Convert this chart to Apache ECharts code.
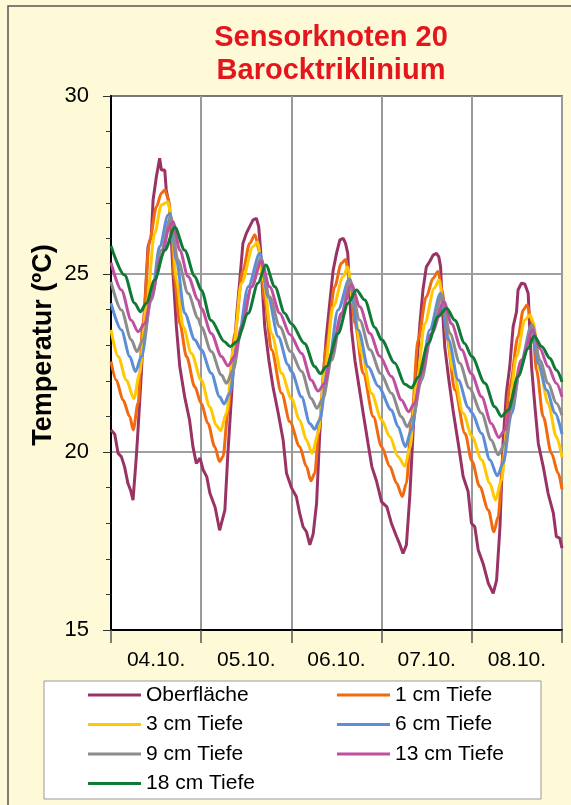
<!DOCTYPE html>
<html><head><meta charset="utf-8">
<script src="https://cdn.jsdelivr.net/npm/echarts@6/dist/echarts.min.js"></script>
<style>html,body{margin:0;padding:0;background:#FEF9D7;}#c{width:571px;height:805px;}</style>
</head><body><div id="c"></div>
<script>
// hours since 04.10. 00:00, temperature in °C
const dayLabels = ['04.10.', '05.10.', '06.10.', '07.10.', '08.10.'];
const seriesNames = ['Oberfläche', '1 cm Tiefe', '3 cm Tiefe', '6 cm Tiefe', '9 cm Tiefe', '13 cm Tiefe', '18 cm Tiefe'];
const seriesColors = ['#993366', '#F26A10', '#FFC800', '#5B8ED6', '#8C8C8C', '#C04FA0', '#0F7A36'];

const oberflaeche = [[0,20.62],[1,20.5],[1.9,19.96],[2.75,19.87],[3.6,19.59],[4.5,19.12],[5.2,18.93],[5.86,18.65],[6.74,19.87],[7.19,20.62],[8.07,22.21],[8.96,24.08],[9.85,25.77],[10.7,26.05],[11.2,27.08],[12.07,27.73],[12.95,28.25],[13.4,27.92],[14.3,27.92],[14.7,27.36],[15.6,26.89],[16.06,25.96],[16.5,25.02],[17.4,23.52],[18.3,22.4],[19.6,21.55],[20.9,20.9],[21.8,20.15],[22.7,19.68],[23.7,19.83],[24.5,19.5],[25.5,19.3],[26.3,18.85],[27.7,18.45],[28.9,17.8],[30.3,18.37],[31.1,19.96],[32,21.46],[33.4,23.8],[34.2,24.74],[35.1,25.86],[36,26.14],[36.9,26.33],[37.8,26.52],[38.7,26.56],[39.3,26.33],[39.8,25.67],[40.2,24.74],[40.9,23.52],[42,22.58],[43.1,21.83],[44.5,21.09],[45.8,20.34],[46.7,19.4],[48,19.0],[49.3,18.75],[50.2,18.28],[51.1,17.9],[52,17.76],[52.9,17.39],[53.8,17.7],[54.7,18.56],[55.5,20.43],[56.4,22.02],[57.3,23.24],[58.2,24.18],[59.1,25.1],[60,25.58],[60.9,25.96],[61.8,26.0],[62.4,25.86],[63,25.58],[63.4,24.64],[64,23.43],[64.9,22.58],[66,21.83],[67.1,21.09],[68.4,20.24],[69.4,19.59],[70.6,19.2],[72,18.6],[73.4,18.46],[74.6,18.0],[76,17.62],[76.9,17.39],[77.7,17.15],[78.6,17.39],[79.5,18.75],[80.4,20.62],[81.3,22.3],[82.2,23.61],[83,24.55],[83.9,25.2],[84.8,25.35],[85.7,25.53],[86.6,25.58],[87.2,25.49],[87.7,25.2],[88.1,24.18],[88.8,22.96],[89.9,22.02],[91,21.18],[92.4,20.24],[93.7,19.31],[95,18.9],[95.9,18.0],[96.8,17.9],[97.7,17.25],[99,16.87],[100.4,16.31],[101.7,16.03],[102.6,16.4],[103.5,17.9],[104.3,20.24],[105.2,21.65],[106.1,22.4],[107,23.52],[107.9,23.94],[108.3,24.55],[109.2,24.74],[110.1,24.72],[111,24.46],[111.4,23.52],[111.9,22.4],[112.8,21.27],[113.7,20.24],[115,19.59],[116.3,18.84],[117.7,18.28],[118.5,17.62],[119.4,17.58],[120,17.3]];

const tiefe1 = [[0,22.54],[1.4,22.02],[3.2,21.46],[5,20.99],[5.9,20.62],[7.2,21.37],[8.5,23.61],[10.3,25.96],[12.1,26.89],[13.4,27.27],[14.3,27.36],[15.2,27.13],[16.1,26.33],[16.9,24.83],[18.3,23.61],[20.1,22.68],[22.3,21.83],[24,21.37],[25.8,20.8],[27.6,20.15],[28.9,19.73],[29.8,19.87],[31.1,21.09],[32.9,23.33],[35.1,25.1],[36.9,25.86],[38.3,26.1],[39.6,25.58],[40.9,24.27],[42.7,22.87],[45.4,21.65],[47.6,20.85],[50.2,20.15],[52,19.59],[53.2,19.19],[54.2,19.4],[55.5,20.9],[57.3,22.96],[59.5,24.64],[61.3,25.3],[62.4,25.41],[63.5,24.83],[64.9,23.61],[67.1,22.21],[69.8,20.99],[72,20.15],[74.2,19.59],[76,19.12],[77.5,18.75],[78.6,19.12],[79.95,20.9],[81.7,23.15],[83.9,24.36],[85.7,24.88],[87,25.07],[88.1,24.55],[89.3,23.24],[91.5,21.74],[94.2,20.52],[96,19.75],[98.1,19.03],[100.4,18.37],[101.9,17.76],[103,18.18],[104.4,19.96],[106.1,21.83],[108.3,23.24],[109.7,23.99],[110.7,24.13],[112.1,23.61],[113.2,22.3],[115,20.99],[117.2,19.96],[119,19.4],[120,18.95]];

const tiefe3 = [[0,23.43],[1.9,22.68],[4.1,22.02],[6.1,21.5],[7.6,22.2],[9.4,24.08],[11.6,26.14],[13.4,26.94],[15.2,27.03],[16.1,26.52],[17.4,24.83],[19.2,23.52],[21.4,22.77],[24,22.02],[26.3,21.27],[28,20.75],[29.2,20.6],[30.7,21.09],[32.5,22.87],[34.7,24.74],[37.8,25.77],[39,25.9],[40.5,24.83],[42.7,23.33],[45.4,22.21],[48,21.5],[50.2,20.9],[52,20.34],[53.5,19.96],[55.1,20.52],[56.9,22.3],[59.1,24.08],[61.8,24.93],[63,25.2],[64.4,24.18],[66.7,22.77],[69.3,21.65],[72,20.9],[74.2,20.43],[76.4,19.87],[78.2,19.6],[79.5,20.1],[81.3,21.93],[83.5,23.61],[86,24.6],[87.3,24.83],[88.8,23.8],[91,22.3],[93.7,21.09],[96,20.45],[98.6,19.78],[100.8,19.12],[102.3,18.65],[103.9,19.21],[105.7,20.99],[107.9,22.68],[110.1,23.71],[111.5,23.85],[112.3,23.66],[114.1,22.3],[116.3,21.37],[118.5,20.43],[120,19.85]];

const tiefe6 = [[0,24.18],[2.75,23.43],[5,22.68],[6.5,22.26],[8.1,22.68],[10.7,24.27],[12.95,25.77],[15.2,26.66],[15.7,26.7],[17.4,25.39],[19.6,23.9],[22.3,23.15],[24,22.87],[26.7,22.21],[28.9,21.55],[30.1,21.35],[31.6,21.65],[33.8,23.15],[36.5,24.64],[39.6,25.58],[41.8,24.36],[44.5,23.24],[47.1,22.45],[48,22.26],[50.7,21.55],[52.9,20.8],[54.2,20.64],[55.5,20.9],[57.8,22.4],[60.4,23.99],[63.4,24.85],[65.8,23.43],[68.4,22.4],[71.1,21.85],[74.6,21.18],[76.4,20.71],[78.3,20.15],[79.95,20.62],[82.2,21.93],[84.8,23.43],[87.7,24.46],[89.8,23.15],[92.4,22.02],[95.1,21.25],[96,21.1],[98.6,20.52],[100.8,19.78],[102.8,19.33],[104.3,19.68],[106.6,21.09],[109.2,22.58],[111.9,23.57],[113.7,22.49],[115.9,21.74],[118.2,21.09],[120,20.5]];

const tiefe9 = [[0,24.78],[2.75,23.99],[5.4,23.15],[6.9,22.82],[8.5,23.15],[10.7,24.27],[13.4,25.67],[15.9,26.6],[17.8,25.39],[20.5,24.46],[23.2,23.75],[24,23.52],[26.7,22.82],[29.4,22.16],[30.7,21.93],[32.5,22.3],[34.7,23.43],[37.4,24.64],[39.9,25.44],[42.2,24.36],[44.9,23.52],[47.8,22.82],[50.7,22.26],[53.3,21.5],[54.8,21.23],[56.4,21.5],[58.7,22.58],[61.3,23.8],[63.5,24.85],[66.2,23.7],[68.9,22.87],[71.8,22.2],[74.6,21.65],[77.3,20.99],[78.8,20.71],[80.4,20.99],[82.6,22.02],[85.3,23.33],[88,24.41],[90.2,23.33],[92.8,22.49],[95.3,21.8],[98.6,21.09],[101.2,20.34],[103,19.92],[104.8,20.24],[106.6,21.27],[109.2,22.49],[112.1,23.57],[114.1,22.58],[116.3,21.93],[118.5,21.37],[120,21.03]];

const tiefe13 = [[0,25.32],[2.75,24.55],[5.4,23.7],[7.2,23.38],[9,23.6],[10.7,24.36],[13.4,25.49],[15.6,26.33],[16.5,26.47],[18.3,25.67],[20.5,24.93],[23.2,24.27],[24,24.04],[26.7,23.33],[29.4,22.68],[31.1,22.42],[32.9,22.68],[34.7,23.52],[37.4,24.64],[40,25.35],[42.2,24.64],[44.9,23.9],[47.6,23.3],[50.7,22.77],[53.3,22.02],[55.1,21.71],[56.9,21.93],[58.7,22.77],[61.3,23.9],[64,24.7],[66.2,24.08],[68.9,23.33],[71.5,22.7],[74.6,22.12],[77.3,21.46],[79.2,21.13],[80.8,21.37],[82.6,22.2],[85.3,23.33],[88.6,24.22],[90.6,23.6],[93.3,22.87],[95.9,22.2],[98.6,21.55],[101.2,20.8],[103.2,20.41],[104.8,20.62],[106.6,21.46],[109.2,22.58],[112.2,23.43],[114.1,22.91],[116.3,22.4],[118.5,21.93],[120,21.55]];

const tiefe18 = [[0,25.79],[3.6,24.97],[6.3,24.18],[7.8,23.94],[9.4,24.18],[11.6,24.83],[14.3,25.67],[17.0,26.31],[19.6,25.67],[22.3,24.93],[24,24.55],[26.6,23.7],[30.2,23.1],[31.7,22.96],[33.4,23.1],[36.5,23.9],[39.1,24.74],[41.2,25.25],[43.6,24.64],[46.2,23.9],[48,23.6],[51.5,23.05],[54.2,22.4],[55.7,22.2],[57.3,22.4],[60.4,23.33],[63.1,24.18],[65.3,24.55],[67.5,24.27],[70.2,23.5],[72,23.15],[75.5,22.5],[78.2,21.9],[79.95,21.8],[81.7,22.1],[84.4,23.05],[87,23.8],[89.3,24.04],[91.5,23.7],[94.1,23.05],[96,22.68],[99.5,21.93],[102.1,21.27],[103.9,21.0],[105.7,21.18],[108.3,22.12],[111,22.91],[112.6,23.26],[114.6,22.96],[116.8,22.63],[118.5,22.3],[120,21.97]];

const seriesData = [oberflaeche, tiefe1, tiefe3, tiefe6, tiefe9, tiefe13, tiefe18];

const FONT = '"Liberation Sans", Arial, sans-serif';
const chart = echarts.init(document.getElementById('c'), null, {renderer: 'canvas'});

const legendText = {fontFamily: FONT, fontSize: 21, color: '#000', lineHeight: 21};
const legendBase = {orient: 'vertical', top: 684.5, icon: 'rect', itemWidth: 53, itemHeight: 3, itemGap: 8.5, textStyle: legendText, padding: 0};
const option = {
  backgroundColor: '#FEF9D7',
  animation: false,
  title: {
    text: 'Sensorknoten 20\nBarocktriklinium',
    left: 331, top: 21, textAlign: 'center', padding: 0,
    textStyle: {fontFamily: FONT, fontSize: 29, fontWeight: 'bold', color: '#E3161E', lineHeight: 33}
  },
  graphic: [
    {type: 'rect', shape: {x: 8, y: 6, width: 700, height: 900}, style: {fill: 'none', stroke: '#555', lineWidth: 1.5}, z: 0},
    {type: 'rect', shape: {x: 44, y: 681, width: 497, height: 118}, style: {fill: '#fff', stroke: '#999', lineWidth: 1}, z: 0},
    {type: 'text', x: 44, y: 345, rotation: Math.PI / 2,
     style: {text: 'Temperatur (ºC)', fontFamily: FONT, fontSize: 27, fontWeight: 'bold', fill: '#000', textAlign: 'center', textVerticalAlign: 'middle'}, z: 5}
  ],
  grid: {left: 111, right: 9, top: 96, bottom: 175, show: true, backgroundColor: '#fff', borderColor: '#333', borderWidth: 1.5, containLabel: false},
  legend: [
    Object.assign({data: [seriesNames[0], seriesNames[2], seriesNames[4], seriesNames[6]], left: 88}, legendBase),
    Object.assign({data: [seriesNames[1], seriesNames[3], seriesNames[5]], left: 337}, legendBase)
  ],
  xAxis: [
    {type: 'value', min: 0, max: 120, interval: 24,
     axisLine: {show: true, lineStyle: {color: '#000', width: 2}},
     axisTick: {show: true, inside: false, length: 13, lineStyle: {color: '#555', width: 1.5}},
     axisLabel: {show: false},
     splitLine: {show: true, lineStyle: {color: '#9a9a9a', width: 2}}},
    {type: 'category', data: dayLabels, boundaryGap: true, position: 'bottom',
     axisLine: {show: false}, axisTick: {show: false}, splitLine: {show: false},
     axisLabel: {fontFamily: FONT, fontSize: 21, color: '#000', margin: 20}}
  ],
  yAxis: {
    type: 'value', min: 15, max: 30, interval: 5,
    axisLine: {show: true, lineStyle: {color: '#000', width: 2}},
    axisTick: {show: true, length: 8, lineStyle: {color: '#333', width: 1}},
    minorTick: {show: true, splitNumber: 5, length: 5, lineStyle: {color: '#333', width: 1}},
    axisLabel: {fontFamily: FONT, fontSize: 22, color: '#000', margin: 22},
    splitLine: {show: true, lineStyle: {color: '#808080', width: 1.5}}
  },
  series: seriesNames.map((n, i) => ({
    name: n, type: 'line', xAxisIndex: 0, data: seriesData[i],
    symbol: 'none', smooth: i === 0 ? false : 0.3, smoothMonotone: 'x',
    lineStyle: {color: seriesColors[i], width: 3},
    itemStyle: {color: seriesColors[i]}
  }))
};
chart.setOption(option);
</script>
</body></html>
